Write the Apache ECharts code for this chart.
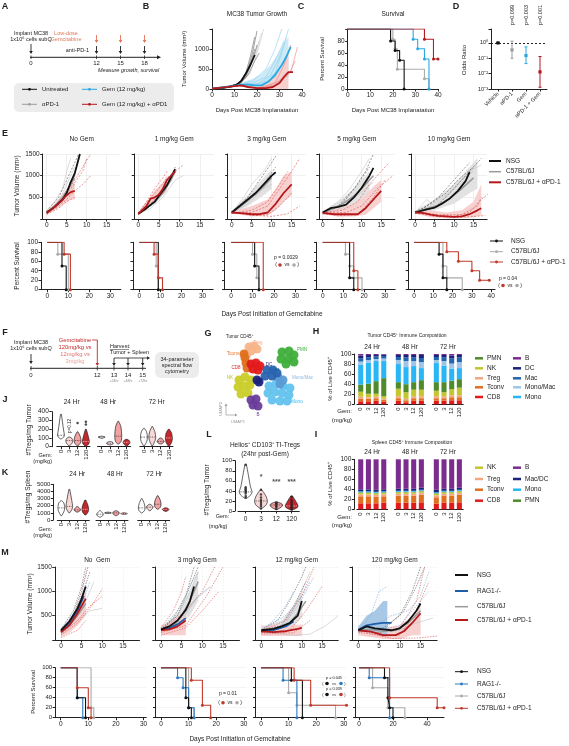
<!DOCTYPE html>
<html><head><meta charset="utf-8">
<script src="https://cdn.jsdelivr.net/npm/echarts@6/dist/echarts.min.js"></script>
<style>html,body{margin:0;padding:0;background:#fff}#c{width:569px;height:746px}</style>
</head><body><div id="c"></div>
<script>
// ---------------- DATA ----------------
// Panel B: tumor growth (days, mm3)
const B_untrInd = [[[0,10],[8,60],[12,150],[15,400],[17,800],[19,1300]],[[0,10],[8,50],[12,120],[15,300],[18,700],[20,1100]],[[0,10],[9,60],[13,200],[16,500],[18,900],[20,1450]],[[0,10],[8,40],[12,100],[16,350],[19,700],[21,900]],[[0,10],[10,80],[14,250],[17,600],[19,1000]]];
const B_untrMean = [[0,10],[5,30],[8,60],[11,110],[13,200],[15,380],[17,600],[19,850]];
const B_apdInd = [[[0,10],[10,70],[14,250],[18,700],[21,1200]],[[0,10],[10,60],[15,300],[19,800],[22,1400]],[[0,10],[12,100],[17,400],[20,900],[23,1500]]];
const B_gemInd = [[[0,10],[12,120],[18,200],[24,500],[28,1000],[31,1500]],[[0,10],[12,100],[18,150],[24,300],[28,700],[32,1200]],[[0,10],[12,110],[20,120],[26,350],[30,800],[33,1300]],[[0,10],[12,100],[20,80],[28,300],[32,700],[35,1100]],[[0,10],[14,120],[22,150],[28,400],[31,900],[34,1500]]];
const B_gemMean = [[0,10],[10,80],[13,110],[16,110],[19,90],[22,90],[25,180],[28,350],[31,600],[33,800],[35,1050]];
const B_gemBand = [[14,60,180],[18,40,250],[22,60,380],[26,120,600],[29,200,850],[32,350,1150],[34,500,1300]];
const B_comboInd = [[[0,10],[12,90],[20,20],[28,100],[33,400],[35,420],[38,1050]],[[0,10],[12,80],[20,15],[28,150],[32,600],[35,1100]],[[0,10],[12,80],[22,20],[30,200],[34,350],[37,700]]];
const B_comboMean = [[0,10],[10,70],[13,90],[16,50],[20,20],[24,20],[27,50],[30,150],[32,300],[34,420],[36,420]];
const B_comboBand = [[20,0,60],[24,0,120],[28,0,300],[31,0,550],[34,0,1000]];
// Panel C: survival (%)
const C_untr = [[0,100],[19,80],[21,64],[23,48],[25,0]];
const C_apd = [[0,100],[20,83],[21,67],[22,33],[34,17],[36,0]];
const C_gem = [[0,100],[29,83],[31,67],[34,50],[36,0]];
const C_combo = [[0,100],[34,83],[38,50],[40,50]];
// Panel D: odds ratios
const D_cats = ['Vehicle','αPD-1','Gem','αPD-1 + Gem'];
const D_mid = [1, 0.35, 0.15, 0.013];
const D_low = [1, 0.1, 0.045, 0.0013];
const D_high = [1, 1.3, 0.55, 0.13];
const D_p = ['', 'p=0.099', 'p=0.003', 'p=0.001'];
// Panel E: tumor growth per dose
const E_doses = ['No Gem','1 mg/kg Gem','3 mg/kg Gem','5 mg/kg Gem','10 mg/kg Gem'];
const E_nsgMean = [
 [[0,150],[2,280],[4,450],[5,600],[6,850],[7,1050],[8.3,1500]],
 [[0,120],[2,250],[4,400],[5,530],[7,780],[9,1150]],
 [[0,150],[2,300],[4,450],[6,600],[8,800],[10,1000],[11,1080]],
 [[0,150],[2,250],[4,280],[6,330],[8,500],[10,720],[12,1000],[13,1180]],
 [[0,150],[3,220],[5,260],[7,360],[9,480],[11,650],[13,880],[14,1080]]];
const E_nsgInd = [
 [[[0,180],[3,500],[5,900],[7,1300],[8,1500]],[[0,140],[3,380],[5,650],[7,1000]]],
 [[[0,120],[3,300],[5,500],[7,800],[9,1200]],[[0,110],[4,400],[6,650],[9,1100]]],
 [[[0,160],[4,500],[7,900],[10,1300],[11,1450]],[[0,140],[4,450],[8,800],[11,1200]]],
 [[[0,150],[4,300],[8,700],[11,1100],[13,1500]],[[0,130],[5,350],[9,800],[12,1200]]],
 [[[0,160],[3,300],[6,500],[9,800],[12,1100],[14,1300]],[[0,140],[4,350],[8,600],[11,900],[15,1200]],[[0,150],[5,250],[10,700],[14,1100],[17,1400]]]];
const E_c57Mean = [
 [[0,150],[2,300],[4,500],[5,650],[6,800],[7,950]],
 [[0,120],[2,260],[4,380],[6,600],[8,900],[9,1100]],
 [[0,140],[2,280],[4,420],[6,580],[8,750],[10,950]],
 [[0,150],[3,250],[6,400],[9,600],[11,800],[13,1000]],
 [[0,160],[3,240],[6,320],[9,480],[12,700],[15,950]]];
const E_c57Ind = [
 [[[0,200],[2,400],[4,700],[5,1100],[6,1400]],[[0,150],[3,400],[5,800],[7,1200]],[[0,130],[2,250],[4,400],[6,600],[7,800]]],
 [[[0,110],[3,250],[6,500],[9,900],[11,1000]],[[0,130],[4,450],[7,800],[9,1050]]],
 [[[0,150],[3,500],[5,800],[8,1100],[10,1400]],[[0,130],[4,350],[8,700],[10,800]]],
 [[[0,160],[4,400],[7,700],[10,1100],[12,1400]],[[0,140],[5,250],[9,550],[13,850]]],
 [[[0,150],[3,450],[5,300],[8,500],[11,800],[14,1100],[17,1250]],[[0,170],[4,300],[8,550],[12,900],[15,1100]]]];
const E_c57Band = [null, null,
 [[0,120,180],[4,300,550],[8,550,950],[10,700,1150]],
 [[0,120,180],[4,180,400],[8,350,700],[12,600,1100]],
 [[0,130,190],[5,200,450],[10,350,800],[14,600,1200],[16,700,1400]]];
const E_redMean = [
 [[0,140],[2,280],[4,450],[5,550],[6,620],[7,650]],
 [[0,120],[2,300],[3,470],[4,500],[5,560],[6,700],[7,900],[9,1100]],
 [[0,150],[3,130],[5,110],[7,110],[9,150],[11,350],[13,600],[15,800]],
 [[0,140],[3,110],[5,110],[9,110],[11,250],[13,450],[15,650]],
 [[0,150],[2,140],[4,100],[6,70],[8,60],[10,50],[12,60],[14,110],[16,200],[17,250]]];
const E_redInd = [
 [[[0,150],[3,400],[5,600],[7,900],[9,1200],[11,1500]],[[0,120],[3,300],[5,450],[7,650],[9,800],[11,1000]],[[0,130],[3,350],[6,700],[9,1100],[10,1400]],[[0,100],[3,250],[5,400],[7,500]]],
 [[[0,130],[2,400],[4,700],[6,950],[7,1100]],[[0,150],[3,500],[5,700],[7,950],[9,1100],[11,1250]],[[0,100],[3,350],[5,600],[8,900]]],
 [[[0,140],[5,150],[9,300],[12,700],[15,1100],[17,1400]],[[0,160],[5,90],[9,100],[12,300],[15,600]],[[0,130],[5,200],[9,400],[12,800],[14,1100]],[[0,150],[6,80],[10,60],[14,120],[17,300]]],
 [[[0,150],[5,200],[9,400],[12,800],[15,1100],[17,1300]],[[0,120],[5,80],[9,100],[13,500],[16,900]],[[0,140],[6,150],[10,300],[14,700],[18,1000]]],
 [[[0,150],[6,80],[10,60],[14,150],[17,450],[19,600]],[[0,140],[5,60],[10,40],[14,50],[18,80]],[[0,160],[6,100],[12,100],[16,300],[17,500]]]];
const E_redBand = [
 [[0,110,170],[2,200,360],[4,330,580],[6,450,800],[7,450,850]],
 [[0,100,150],[2,220,380],[4,400,650],[6,550,850],[7,650,1000]],
 [[0,130,170],[5,60,300],[9,80,450],[11,200,700],[13,400,1000],[15,550,1100]],
 [[0,110,190],[4,50,250],[8,60,350],[11,100,550],[13,250,750],[15,400,900]],
 [[0,120,190],[4,40,200],[8,20,150],[12,20,200],[15,40,400],[17,80,800]]];
const E_survNSG = [[[0,100],[7,50],[9,0]],[[0,100],[9,0]],[[0,100],[11,50],[13,0]],[[0,100],[13,25],[15,0]],[[0,100],[13,75],[15,25],[17,0]]];
const E_survC57 = [[[0,100],[5,75],[10,0]],[[0,100],[8,50],[9,0]],[[0,100],[10,75],[12,25],[13,0]],[[0,100],[11,75],[13,50],[15,25],[19,0]],[[0,100],[15,50],[17,25],[25,0]]];
const E_survRed = [[[0,100],[8,75],[11,0]],[[0,100],[7,75],[9,25],[11,0]],[[0,100],[15,0]],[[0,100],[15,40],[17,0]],[[0,100],[17,80],[23,60],[30,40],[34,20],[39,20]]];
// Panel G: UMAP cluster samples
const G_clusters = [
 {name:'Treg', color:'#f6b58a', pts:[[27,7],[32,6],[35,9],[29,11],[25,14]]},
 {name:'Tconv', color:'#e0701f', pts:[[22,14],[23,18],[24,23],[25,28]]},
 {name:'CD8', color:'#e31a1c', pts:[[29,24],[34,23],[38,26],[31,29],[36,30]]},
 {name:'NK', color:'#c9cd2a', pts:[[17,40],[23,37],[29,40],[16,47],[22,46],[28,45],[19,54],[26,53]]},
 {name:'PMN', color:'#3fae3a', pts:[[60,12],[67,11],[72,15],[59,19],[66,19],[72,22],[64,24]]},
 {name:'Mono', color:'#63c3ee', pts:[[47,46],[54,44],[61,46],[68,48],[46,53],[53,52],[60,53],[67,55],[50,60],[58,61],[65,61]]},
 {name:'Mono/Mac', color:'#5b9bd5', pts:[[56,37],[61,40],[58,44]]},
 {name:'Mac', color:'#2a64b0', pts:[[45,30],[51,30],[43,36],[50,36],[55,33]]},
 {name:'DC', color:'#1a237e', pts:[[35,40],[37,42]]},
 {name:'B', color:'#6a3d9a', pts:[[29,60],[34,59],[31,65],[36,66]]}];
// Panel H: tumor composition (%), 3 timepoints x doses 0,3,12,120
const H_times = ['24 Hr','48 Hr','72 Hr'];
const H_doses = ['0','3','12','120'];
const H_CD8 = [6,6,7,5, 7,4,7,7, 7,7,8,8];
const H_Tconv = [5,5,5,4, 5,4,5,5, 5,5,6,6];
const H_Treg = [4,3,3,2, 4,3,4,4, 4,4,4,4];
const H_NK = [10,7,6,5, 15,13,13,13, 11,8,12,15];
const H_PMN = [14,20,25,36, 13,16,15,19, 17,20,17,17];
const H_Mono = [40,42,40,34, 36,34,32,24, 38,33,24,22];
const H_MonoMac = [6,5,4,5, 8,12,10,12, 6,9,10,12];
const H_Mac = [6,5,5,5, 6,7,7,8, 6,7,10,9];
const H_DC = [6,5,3,3, 4,5,5,6, 4,5,6,5];
const H_B = [3,2,2,1, 2,2,2,2, 2,2,3,2];
// Panel I: spleen composition (%)
const I_CD8 = [12,12,12,13, 13,13,13,14, 11,13,13,14];
const I_Tconv = [14,14,13,13, 14,14,14,15, 13,14,14,15];
const I_Treg = [4,4,4,4, 4,4,4,4, 4,4,4,4];
const I_NK = [3,3,3,3, 3,3,3,3, 3,3,3,3];
const I_PMN = [1,1,1,1, 1,1,1,1, 1,1,1,1];
const I_Mono = [2,2,2,2, 2,2,2,2, 2,2,2,2];
const I_MacDC = [4,4,4,4, 4,4,4,4, 5,4,4,4];
const I_B = [60,60,61,60, 59,59,59,57, 61,59,59,57];
// Panels J/K/L: violins [doseIndex, min, q1, median, q3, max]
const J_24 = [[0,90,110,130,190,370],[1,10,40,70,95,110],[2,10,40,70,120,170],[3,5,30,60,110,200]];
const J_48 = [[0,95,105,110,115,120],[1,20,30,40,50,60],[2,30,60,120,230,290],[3,10,30,50,70,85]];
const J_72 = [[0,10,60,110,170,210],[1,10,70,110,170,230],[2,30,45,60,80,100],[3,5,50,100,160,200]];
const J_out = [[[2,270],[3,285],[3,255]],[],[]];
const K_24 = [[0,600,1200,1700,2400,2700],[1,1000,1500,1900,2700,4300],[2,1100,1300,1400,1600,1900],[3,700,1100,1500,2100,2800]];
const K_48 = [[0,400,600,800,1000,1300],[1,900,950,1000,1050,1100],[2,600,800,1000,1150,1300],[3,800,850,900,950,1000]];
const K_72 = [[0,1000,1300,1700,2300,3000],[1,1300,1600,1800,2000,2200],[2,1500,1800,2200,2800,3400],[3,1200,1350,1500,1600,1700]];
const L_violin = [[0,25,32,38,48,92],[1,5,12,20,30,42],[2,3,8,12,15,18],[3,2,6,10,17,30]];
const L_points = [[0,27],[0,30],[0,35],[0,38],[0,40],[0,42],[0,44],[0,47],[0,92],[1,5],[1,10],[1,14],[1,18],[1,22],[1,27],[1,33],[1,42],[2,4],[2,8],[2,10],[2,13],[2,15],[2,17],[3,3],[3,6],[3,8],[3,11],[3,14],[3,18],[3,22],[3,28]];
const L_stars = [[1,68,'*'],[2,58,'***'],[3,58,'***']];
// Panel M
const M_doses = ['No  Gem','3 mg/kg Gem','12 mg/kg Gem','120 mg/kg Gem'];
const M_nsgMean = [[[0,200],[2,380],[4,650],[5,850],[6,1100]],[[0,220],[2,280],[4,400],[6,620],[7,800],[8,1100]],[[0,200],[3,230],[5,280],[7,350],[9,500],[10,800]],[[0,200],[2,280],[4,240],[6,220],[8,200],[10,240],[12,380],[14,600],[15,750]]];
const M_ragMean = [[[0,180],[2,350],[4,600],[5,800],[5.5,900]],[[0,210],[2,250],[4,320],[6,450]],[[0,180],[3,200],[6,280],[8,380]],[[0,210],[2,300],[4,330],[6,350],[8,350]]];
const M_c57Mean = [[[0,160],[2,300],[4,500],[6,750]],[[0,200],[3,300],[5,500],[7,800],[9,1200]],[[0,190],[4,230],[7,350],[9,550],[11,800]],[[0,200],[3,220],[6,180],[9,200],[12,350],[15,600]]];
const M_redMean = [[[0,160],[2,300],[4,550],[6,850]],[[0,200],[2,220],[4,280],[6,400]],[[0,180],[3,160],[6,180],[9,230],[10,250]],[[0,200],[3,170],[6,100],[9,100],[11,180],[13,350],[15,550]]];
const M_nsgInd = [[[[0,220],[3,600],[5,1100],[6,1500]],[[0,180],[3,500],[5,900],[7,1400]]],[[[0,220],[3,450],[6,900],[8,1500]],[[0,200],[4,500],[7,1100],[9,1500]]],[[[0,200],[4,400],[7,800],[10,1300],[11,1500]],[[0,190],[5,300],[8,700],[11,1200]]],[[[0,200],[6,250],[10,500],[13,1000],[15,1500]],[[0,220],[6,200],[11,600],[14,1100],[16,1500]]]];
const M_ragInd = [[[[0,200],[3,550],[5,1000],[6.5,1500]],[[0,170],[3,400],[5,700],[7,1200]]],[[[0,220],[4,600],[7,1100],[9,1400]],[[0,190],[4,350],[8,800],[12,1100]]],[[[0,200],[3,400],[6,700],[8,1000]],[[0,180],[5,250],[9,700],[13,1300]],[[0,220],[6,500],[10,900],[12,1200]]],[[[0,200],[3,500],[5,1000],[7,1100]],[[0,220],[4,300],[8,500],[12,600],[15,900],[17,1400]],[[0,180],[5,200],[10,300],[14,700],[17,1000]]]];
const M_c57Ind = [[[[0,150],[4,400],[7,600],[10,650]],[[0,170],[3,400],[6,800],[8,1200]]],[[[0,210],[4,500],[7,1000],[9,1400]],[[0,180],[5,400],[9,900],[12,1100]]],[[[0,200],[6,300],[10,1000],[12,1400]],[[0,150],[8,100],[12,120],[16,300],[19,500]]],[[[0,190],[5,150],[10,200],[14,350],[18,450]]]];
const M_redInd = [[[[0,150],[3,500],[5,1000],[6.5,1500]],[[0,120],[4,400],[7,700],[10,900]],[[0,100],[4,350],[7,650],[10,1050]],[[0,50],[4,200],[6,400]]],[[[0,250],[3,600],[5,1000],[6,1300]],[[0,150],[6,300],[11,900],[15,1500]],[[0,100],[6,250],[10,600],[14,1000]],[[0,180],[6,600],[10,1000],[13,1500]]],[[[0,190],[6,400],[10,900],[13,1500]],[[0,150],[7,200],[11,600],[15,1100]],[[0,120],[8,150],[12,400]]],[[[0,190],[5,150],[10,250],[14,800],[16,1500]],[[0,160],[6,80],[10,100],[14,600],[17,1200]],[[0,200],[8,30],[14,40],[19,80]]]];
const M_redBand = [[[0,60,250],[2,150,400],[4,300,700],[6,500,1000]],[[0,100,300],[3,100,400],[6,100,550]],[[0,80,300],[5,80,300],[10,80,320]],[[0,100,300],[6,20,250],[10,20,300],[13,100,500],[15,100,700]]];
const M_ragBand = [null,null,null,[[0,150,270],[2,180,500],[4,150,600],[6,100,800],[7,80,800]]];
const M_c57Band = [null,[[0,150,250],[4,250,550],[7,500,1000],[9,800,1400]],[[0,150,250],[5,180,400],[8,300,700],[10,450,1000]],null];
const M_survNSG = [[[0,100],[6,40],[9,0]],[[0,100],[9,40],[10,20],[11,0]],[[0,100],[11,75],[15,0]],[[0,100],[15,80],[17,40],[18,20],[20,0]]];
const M_survRAG = [[[0,100],[6,40],[8,0]],[[0,100],[6,80],[8,60],[10,20],[12,0]],[[0,100],[8,75],[13,0]],[[0,100],[6,80],[18,0]]];
const M_survC57 = [[[0,100],[11,20],[12,0]],[[0,100],[10,20],[12,0]],[[0,100],[10,50],[13,25],[27,0]],[[0,100],[8,60],[17,20],[27,0]]];
const M_survRed = [[[0,100],[6,60],[10,20],[11,0]],[[0,100],[11,75],[15,25],[18,0]],[[0,100],[12,75],[18,25],[31,25]],[[0,100],[18,40],[46,20],[50,20]]];

// ---------------- BUILD ----------------
const FF = '"Liberation Sans", Arial, sans-serif';
const COL = {black:'#111', grey:'#9c9c9c', lgrey:'#cfcfcf', red:'#b5191c', redInd:'#d9534f', pink:'#f4c4c4', gem:'#29a9e1', rag:'#1f5fa8', ragInd:'#7aa7d6'};
const grids=[], xAxes=[], yAxes=[], series=[], G=[];
const AX = {
  axisLine:{show:true, onZero:false, lineStyle:{color:'#222', width:1}},
  axisTick:{show:true, length:2.5, lineStyle:{color:'#222', width:1}},
  axisLabel:{fontSize:6.5, fontFamily:FF, color:'#222', margin:3},
  splitLine:{show:false}
};
function merge(a,b){ const o=Object.assign({},a); for(const k in b){ const v=b[k]; if(v&&typeof v==='object'&&!Array.isArray(v)&&a[k]&&typeof a[k]==='object'&&!Array.isArray(a[k])) o[k]=merge(a[k],v); else o[k]=v; } return o; }
function addGrid(box, xa, ya){
  const i=grids.length;
  grids.push(Object.assign({containLabel:false, outerBoundsMode:'none'}, box));
  xAxes.push(merge(AX, merge({gridIndex:i, type:'value'}, xa)));
  yAxes.push(merge(AX, merge({gridIndex:i, type:'value'}, ya)));
  return i;
}
function lineS(gi, data, color, width, type, z){
  series.push({type:'line', xAxisIndex:gi, yAxisIndex:gi, data, symbol:'none', showSymbol:false, clip:true,
    lineStyle:{color, width, type:type||'solid'}, itemStyle:{color}, z:z||2, silent:true, animation:false});
}
function bandS(gi, data, color, z){
  if(!data) return;
  series.push({type:'custom', xAxisIndex:gi, yAxisIndex:gi, data, encode:{x:0,y:[1,2]}, z:z||1, silent:true, clip:true,
    renderItem:(p,api)=>{ if(p.dataIndex!==0) return null;
      const top=data.map(d=>api.coord([d[0],d[2]])); const bot=data.map(d=>api.coord([d[0],d[1]])).reverse();
      return {type:'polygon', shape:{points:top.concat(bot)}, style:{fill:color}}; }});
}
function survS(gi, data, color, z){
  series.push({type:'line', step:'end', xAxisIndex:gi, yAxisIndex:gi,
    data:data.map((d,i)=>i===0?{value:d, symbol:'none'}:d), symbol:'circle', symbolSize:3, showSymbol:true,
    lineStyle:{color, width:1.1}, itemStyle:{color}, z:z||3, silent:true, animation:false});
}
function T(x,y,text,o){ o=o||{}; G.push({type:'text', x, y, rotation:o.rot||0, z:100,
  style:{text, font:(o.it?'italic ':'')+(o.b?'bold ':'')+(o.s||6)+'px '+FF, fill:o.c||'#222', align:o.a||'center', verticalAlign:o.v||'middle'}}); }
function Ln(x1,y1,x2,y2,c,w,dash){ G.push({type:'line', z:100, shape:{x1,y1,x2,y2}, style:{stroke:c||'#222', lineWidth:w||1, lineDash:dash||null}}); }
function Tri(pts,c){ G.push({type:'polygon', z:100, shape:{points:pts}, style:{fill:c}}); }
function arrowDown(x,y1,y2,c){ Ln(x,y1,x,y2-2,c,0.9); Tri([[x-1.8,y2-3],[x+1.8,y2-3],[x,y2]],c); }
function Rc(x,y,w,h,fill,r){ G.push({type:'rect', z:95, shape:{x,y,width:w,height:h,r:r||0}, style:{fill}}); }
function Dot(x,y,r,c){ G.push({type:'circle', z:101, shape:{cx:x,cy:y,r}, style:{fill:c}}); }
function legLine(x1,x2,y,c,w,dot){ Ln(x1,y,x2,y,c,w); if(dot) Dot((x1+x2)/2,y,1.4,c); }
function vsLabel(x,y,c1,c2,s){ s=s||5; T(x-11,y,'(',{s}); Dot(x-7,y,1.8,c1); T(x,y,'vs',{s}); Dot(x+7,y,1.8,c2); T(x+11,y,')',{s}); }
const hideZero = v => v===0?'':v;
const catAxis = (extra) => merge({type:'category',data:H_doses,axisTick:{alignWithLabel:true},axisLabel:{interval:0,rotate:90,fontSize:6,margin:3}}, extra||{});

// ---- Panel A ----
T(5,7,'A',{b:1,s:9});
T(31,33,'Implant MC38',{s:5.5}); T(31,39,'1x10⁶ cells subQ',{s:5.5});
arrowDown(31,44,54,'#222');
T(66,33,'Low-dose',{s:5.5,c:'#e2765a'}); T(66,39,'Gemcitabine',{s:5.5,c:'#e2765a'});
[96.5,120.5,144.5].forEach(x=>{arrowDown(x,35,43,'#e2765a'); arrowDown(x,46,54,'#222'); Ln(x,55.5,x,59,'#222',0.8);});
Ln(31,55.5,31,59,'#222',0.8);
T(89,50,'anti-PD-1',{s:5.5,a:'right'});
Ln(30,57.3,158,57.3,'#222',1); Tri([[157,55.3],[157,59.3],[161,57.3]],'#222');
T(31,63.5,'0',{s:6}); T(96.5,63.5,'12',{s:6}); T(120.5,63.5,'15',{s:6}); T(144.5,63.5,'18',{s:6});
T(98,70.5,'Measure growth, survival',{it:1,a:'left',s:5.5});
Rc(14,83,160,29,'#ececec',5);
legLine(22,37,89.3,COL.black,1,true); T(42,89.3,'Untreated',{a:'left',s:6});
legLine(22,37,104.3,COL.grey,1,true); T(42,104.3,'αPD-1',{a:'left',s:6});
legLine(82,97,89.3,COL.gem,1,true); T(102,89.3,'Gem (12 mg/kg)',{a:'left',s:6});
legLine(82,97,104.3,COL.red,1,true); T(102,104.3,'Gem (12 mg/kg) + αPD1',{a:'left',s:6});

// ---- Panel B ----
T(146,7,'B',{b:1,s:9}); T(257,14,'MC38 Tumor Growth',{s:6.5});
T(184,59,'Tumor Volume (mm³)',{rot:Math.PI/2,s:6}); T(257,110,'Days Post MC38 Implanatation',{s:6});
let gi = addGrid({left:212,top:29,width:90,height:60},{min:0,max:40,interval:10},{min:0,max:1500,interval:500,axisLabel:{formatter:v=>v===1500?'':v}});
bandS(gi,B_gemBand,'#cdeaf7',1); bandS(gi,B_comboBand,'#f6cfcf',1);
B_apdInd.forEach(d=>lineS(gi,d,'#c8c8c8',0.6));
B_untrInd.forEach(d=>lineS(gi,d,'#666',0.6));
B_gemInd.forEach(d=>lineS(gi,d,'#8fd0ee',0.6));
B_comboInd.forEach(d=>lineS(gi,d,'#e58a8a',0.6));
lineS(gi,B_untrMean,COL.black,1.8,'solid',5); lineS(gi,B_gemMean,COL.gem,1.8,'solid',5); lineS(gi,B_comboMean,COL.red,1.8,'solid',5);

// ---- Panel C ----
T(301,7,'C',{b:1,s:9}); T(393,14,'Survival',{s:6.5});
T(322,59,'Percent Survival',{rot:Math.PI/2,s:6}); T(393,110,'Days Post MC38 Implanatation',{s:6});
gi = addGrid({left:347.7,top:29,width:90.3,height:60},{min:0,max:40,interval:10},{min:0,max:100,interval:20,axisLabel:{formatter:v=>v===100?'':v}});
survS(gi,C_apd,'#aaaaaa',3); survS(gi,C_untr,COL.black,4); survS(gi,C_gem,COL.gem,4); survS(gi,C_combo,COL.red,4);

// ---- Panel D ----
T(456,7,'D',{b:1,s:9}); T(464,60,'Odds Ratio',{rot:Math.PI/2,s:6});
gi = addGrid({left:491,top:29,width:56,height:60},
  {type:'category',data:D_cats,axisTick:{alignWithLabel:true},axisLabel:{interval:0,rotate:45,fontSize:5.5,margin:4}},
  {type:'log',logBase:10,min:0.001,max:8,axisLabel:{fontSize:5.5,formatter:v=>{const e=Math.log10(v); if(Math.abs(e-Math.round(e))>0.01) return ''; const sup={'0':'⁰','1':'¹','2':'²','3':'³','-':'⁻'}; return '10'+String(Math.round(e)).split('').map(ch=>sup[ch]).join('');}}});
const D_cols = ['#111','#9c9c9c',COL.gem,COL.red];
series.push({type:'custom', xAxisIndex:gi, yAxisIndex:gi, z:5, silent:true,
  data:D_cats.map((c,i)=>[i,D_low[i],D_mid[i],D_high[i]]), encode:{x:0,y:[1,3]},
  renderItem:(p,api)=>{ const i=api.value(0); const lo=api.coord([i,api.value(1)]), mi=api.coord([i,api.value(2)]), hi=api.coord([i,api.value(3)]); const c=D_cols[i];
    return {type:'group',children:[
      {type:'line',shape:{x1:lo[0],y1:lo[1],x2:hi[0],y2:hi[1]},style:{stroke:c,lineWidth:1}},
      {type:'line',shape:{x1:lo[0]-1.5,y1:lo[1],x2:lo[0]+1.5,y2:lo[1]},style:{stroke:c,lineWidth:1}},
      {type:'line',shape:{x1:hi[0]-1.5,y1:hi[1],x2:hi[0]+1.5,y2:hi[1]},style:{stroke:c,lineWidth:1}},
      {type:'rect',shape:{x:mi[0]-1.6,y:mi[1]-1.6,width:3.2,height:3.2},style:{fill:c}}]}; },
  markLine:{silent:true,symbol:'none',label:{show:false},data:[{yAxis:1}],lineStyle:{type:[2,2],color:'#222',width:1}}});
[[512.7,1],[526.7,2],[540,3]].forEach(([x,i])=>T(x,25,D_p[i],{rot:Math.PI/2,a:'left',s:5.5}));

// ---- Panel E ----
T(5,134,'E',{b:1,s:9});
const E_x0=[46.7,138.3,231.7,322.7,415], E_px=[4,4.1,4,3.9,3.9];
const Es_x0=[47.3,139.3,231,322.7,414], Es_px=[2.1,2.11,2.15,2.07,1.93];
for(let p=0;p<5;p++){
  const left=E_x0[p]-E_px[p];
  T(left+19.5*E_px[p]/2, 139, E_doses[p], {s:6.5});
  const spl={show:true,lineStyle:{color:'#e6e6e6',width:0.6}};
  gi = addGrid({left,top:154,width:19.5*E_px[p],height:65},
    {min:-1,max:18.5,axisLabel:{customValues:[0,5,10,15]},axisTick:{customValues:[0,5,10,15]},splitLine:spl},
    {min:0,max:1500,interval:500,axisLabel:{show:p===0,formatter:hideZero},splitLine:spl});
  bandS(gi,E_c57Band[p],'#e2e2e2',1); bandS(gi,E_redBand[p],'#f7d0d0',1);
  E_c57Ind[p].forEach(d=>lineS(gi,d,'#c4c4c4',0.6));
  E_nsgInd[p].forEach(d=>lineS(gi,d,'#555',0.6,[2,1.5]));
  E_redInd[p].forEach(d=>lineS(gi,d,COL.redInd,0.6,[2,1.5]));
  lineS(gi,E_c57Mean[p],'#9a9a9a',1.5,'solid',4); lineS(gi,E_nsgMean[p],COL.black,1.8,'solid',5); lineS(gi,E_redMean[p],COL.red,1.8,'solid',5);
  const sleft=Es_x0[p]-3*Es_px[p], smax=p===4?42:35, cv=p===4?[0,10,20,30,40]:[0,10,20,30];
  gi = addGrid({left:sleft,top:242.3,width:(smax+3)*Es_px[p],height:47.4},
    {min:-3,max:smax,axisLabel:{customValues:cv},axisTick:{customValues:cv}},
    {min:0,max:100,interval:20,axisLabel:{show:p===0}});
  survS(gi,E_survC57[p],'#aaaaaa',3); survS(gi,E_survNSG[p],COL.black,4); survS(gi,E_survRed[p],'#c0392b',5);
}
T(17,186,'Tumor Volume (mm³)',{rot:Math.PI/2,s:6.5}); T(17,266,'Percent Survival',{rot:Math.PI/2,s:6.5});
T(272,314,'Days Post Initiation of Gemcitabine',{s:6.5});
legLine(489,501,161,COL.black,2); T(506,161,'NSG',{a:'left',s:6.5});
legLine(489,501,171.7,'#9a9a9a',1.5); T(506,171.7,'C57BL/6J',{a:'left',s:6.5});
legLine(489,501,182.3,COL.red,2); T(506,182.3,'C57BL/6J + αPD-1',{a:'left',s:6.5});
legLine(490,503,241,COL.black,1,true); T(511,241,'NSG',{a:'left',s:6.5});
legLine(490,503,251.7,'#aaaaaa',1,true); T(511,251.7,'C57BL/6J',{a:'left',s:6.5});
legLine(490,503,262,'#c0392b',1,true); T(511,262,'C57BL/6J + αPD-1',{a:'left',s:6.5});
T(286,257.3,'p = 0.0029',{s:5}); vsLabel(287,265,'#c0392b','#aaaaaa');
T(508,278.5,'p = 0.04',{s:5}); vsLabel(510,285.5,'#c0392b','#aaaaaa');

// ---- Panel F ----
T(5,333,'F',{b:1,s:9});
T(31,342,'Implant MC38',{s:5.5}); T(31,348,'1x10⁶ cells subQ',{s:5.5});
arrowDown(31,354,364,'#222');
Ln(30,368.3,146,368.3,'#222',1);
[[31,'0'],[97.3,'12'],[114,'13'],[128,'14'],[142.7,'15']].forEach(([x,t])=>{Ln(x,366,x,370.5,'#222',0.8); T(x,375,t,{s:6});});
T(75,340,'Gemcitabine',{s:5.8,c:'#c0282a'});
T(75,347.5,'120mg/kg vs',{s:5.8,c:'#c0282a'});
T(75,354.5,'12mg/kg vs',{s:5.8,c:'#e07070'});
T(75,361.5,'3mg/kg',{s:5.8,c:'#f0a0a0'});
Ln(92,340,97.3,340,'#c0282a',0.8); arrowDown(97.3,340,366,'#c0282a');
T(110,346.5,'Harvest:',{a:'left',s:5.5}); Ln(110,349.5,129,349.5,'#222',0.5);
T(110,352.7,'Tumor + Spleen',{a:'left',s:5.5});
Ln(114,358,148,358,'#222',0.8); Tri([[147,356.3],[147,359.7],[150,358]],'#222');
[114,128,142.7].forEach(x=>arrowDown(x,358,366,'#222'));
['+24hr','+48hr','+72hr'].forEach((t,i)=>T([114,128,142.7][i],381,t,{s:3.5,c:'#888'}));
Rc(155,352,44,26,'#ececec',6);
T(177,359,'34-parameter',{s:5.5}); T(177,365,'spectral flow',{s:5.5}); T(177,371,'cytometry',{s:5.5});

// ---- Panel G ----
T(208,334,'G',{b:1,s:9}); T(226,337,'Tumor CD45⁺',{a:'left',s:4.5});
gi = addGrid({left:222,top:340,width:85,height:80},{min:0,max:85,show:false},{min:0,max:80,inverse:true,show:false});
G_clusters.forEach(c=>series.push({type:'scatter',xAxisIndex:gi,yAxisIndex:gi,data:c.pts,symbolSize:9,itemStyle:{color:c.color,opacity:0.95},silent:true,z:3}));
[['Treg',258,342.5,'#f4a582'],['Tconv',233,354,'#e0701f'],['CD8',236,368,'#e31a1c'],['NK',230,378,'#b8bc20'],['DC',269,364.5,'#1a237e'],['Mac',275,370,'#2166ac'],['Mono/Mac',292,377.5,'#8fb8e0'],['Mono',297,401.5,'#29b6f6'],['PMN',302,350,'#3fae3a'],['B',258,415,'#6a3d9a']]
  .forEach(([t,x,y,c])=>T(x,y,t,{s:4.5,c,a:t==='Mono/Mac'?'left':'center'}));
Ln(226,405,226,415,'#999',0.7); Ln(226,415,236,415,'#999',0.7);
Tri([[224.5,406],[227.5,406],[226,403.5]],'#999'); Tri([[235,413.5],[235,416.5],[237.5,415]],'#999');
T(221,409,'UMAP2',{rot:Math.PI/2,s:4,c:'#999'}); T(238,421.5,'UMAP1',{s:4,c:'#999'});

// ---- Panels H & I ----
const H_types = [['CD8',H_CD8,'#e31a1c'],['Tconv',H_Tconv,'#e0701f'],['Treg',H_Treg,'#f4a582'],['NK',H_NK,'#c3c62e'],['PMN',H_PMN,'#4f8a2b'],['Mono',H_Mono,'#29b6f6'],['Mono/Mac',H_MonoMac,'#9ec5e8'],['Mac',H_Mac,'#2166ac'],['DC',H_DC,'#1a237e'],['B',H_B,'#7b2d8e']];
const I_types = [['CD8',I_CD8,'#e31a1c'],['Tconv',I_Tconv,'#e0701f'],['Treg',I_Treg,'#f4a582'],['NK',I_NK,'#c3c62e'],['PMN',I_PMN,'#4f8a2b'],['Mono',I_Mono,'#29b6f6'],['Mac/DC',I_MacDC,'#1a237e'],['B',I_B,'#7b2d8e']];
const HI_lefts=[356.9,394.5,432.5];
function stackPanel(types, top, height){
  for(let g=0;g<3;g++){
    const id = addGrid({left:HI_lefts[g],top,width:30.7,height},
      catAxis({axisTick:{show:false}}),
      {min:0,max:100,interval:20,show:g===0,offset:2.6,axisLabel:{fontSize:6.5}});
    types.forEach(([n,arr,c])=>series.push({type:'bar',xAxisIndex:id,yAxisIndex:id,stack:'s'+id,data:arr.slice(g*4,g*4+4),barWidth:'66%',itemStyle:{color:c},silent:true}));
    T(HI_lefts[g]+15.35, top-6.8, H_times[g], {s:6.5});
  }
}
T(316,332,'H',{b:1,s:9}); T(407,336,'Tumor CD45⁺ Immune Composition',{s:5});
stackPanel(H_types,354,50.3);
T(330,379,'% of Live CD45⁺',{rot:Math.PI/2,s:6}); T(352,411.7,'Gem:',{a:'right',s:6}); T(352,420,'(mg/kg)',{a:'right',s:6});
[[['PMN','#4f8a2b'],['NK','#c3c62e'],['Treg','#f4a582'],['Tconv','#e0701f'],['CD8','#e31a1c']],[['B','#7b2d8e'],['DC','#1a237e'],['Mac','#2166ac'],['Mono/Mac','#9ec5e8'],['Mono','#29b6f6']]]
  .forEach((col,ci)=>col.forEach(([t,c],ri)=>{const y=[358.3,368.3,378.3,387.3,397][ri]; const x=ci?513:475; legLine(x,x+8,y,c,2.5); T(x+12,y,t,{a:'left',s:6.5});}));
T(316,435,'I',{b:1,s:9}); T(412,442.3,'Spleen CD45⁺ Immune Composition',{s:5});
stackPanel(I_types,459.3,50);
T(330,484,'% of Live CD45⁺',{rot:Math.PI/2,s:6}); T(352,517.7,'Gem:',{a:'right',s:6}); T(352,525.7,'(mg/kg)',{a:'right',s:6});
[[['NK','#c3c62e'],['Treg','#f4a582'],['Tconv','#e0701f'],['CD8','#e31a1c']],[['B','#7b2d8e'],['Mac/DC','#1a237e'],['Mono','#29b6f6'],['PMN','#4f8a2b']]]
  .forEach((col,ci)=>col.forEach(([t,c],ri)=>{const y=[467.7,479,489.7,500.7][ri]; const x=ci?513:475; legLine(x,x+8,y,c,2.5); T(x+12,y,t,{a:'left',s:6.5});}));

// ---- Violins J, K, L ----
const VC=['#ffffff','#f8d7d7','#f1a3a3','#c3272b'];
function violinRender(p,api){
  const c=api.value(0); const v=[1,2,3,4,5].map(i=>api.value(i));
  const hw=Math.min(api.size([1,0])[0]*0.42,7); const ws=[0.12,0.8,1,0.75,0.12];
  const Lp=[],Rp=[];
  for(let i=0;i<5;i++){const pt=api.coord([c,v[i]]); Lp.push([pt[0]-hw*ws[i],pt[1]]); Rp.unshift([pt[0]+hw*ws[i],pt[1]]);}
  const top=api.coord([c,v[4]]), bot=api.coord([c,v[0]]), med=api.coord([c,v[2]]);
  return {type:'group',children:[
    {type:'polygon',shape:{points:[bot].concat(Lp,[top],Rp),smooth:0.25},style:{fill:VC[c],stroke:'#222',lineWidth:0.7}},
    {type:'line',shape:{x1:med[0]-hw*0.85,y1:med[1],x2:med[0]+hw*0.85,y2:med[1]},style:{stroke:c===3?'#fff':'#222',lineWidth:0.6,lineDash:[1.5,1]}}]};
}
function violinS(id,data){ series.push({type:'custom',xAxisIndex:id,yAxisIndex:id,data,encode:{x:0,y:[1,5]},renderItem:violinRender,silent:true,z:3}); }
T(5,400,'J',{b:1,s:9});
const J_l=[56.8,97.5,139.8], J_t=[71.7,108.3,156.7], J_data=[J_24,J_48,J_72];
for(let g=0;g<3;g++){
  const id=addGrid({left:J_l[g],top:411.7,width:33.2,height:35}, catAxis(),
    {min:0,max:400,interval:100,show:g===0,offset:5,axisLabel:{fontSize:6.5}});
  violinS(id,J_data[g]);
  if(J_out[g].length) series.push({type:'scatter',xAxisIndex:id,yAxisIndex:id,data:J_out[g],symbolSize:2.5,itemStyle:{color:'#222'},silent:true,z:4});
  T(J_t[g],402.3,H_times[g],{s:6.5});
}
T(69.3,433,'p=0.12',{rot:Math.PI/2,a:'left',s:4.5});
T(29,430,'#Tregs/mg Tumor',{rot:Math.PI/2,s:6.5}); T(52,455,'Gem:',{a:'right',s:5.5}); T(52,461.7,'(mg/kg)',{a:'right',s:5.5});
T(5,473,'K',{b:1,s:9});
const K_l=[57.3,96,137.7], K_t=[77.3,115,154.3], K_data=[K_24,K_48,K_72];
for(let g=0;g<3;g++){
  const id=addGrid({left:K_l[g],top:484.3,width:32,height:35.7}, catAxis(),
    {min:0,max:5000,interval:1000,show:g===0,offset:4,axisLabel:{fontSize:6,formatter:v=>String(v)}});
  violinS(id,K_data[g]);
  T(K_t[g],474.3,H_times[g],{s:6.5});
}
T(28,497,'#Tregs/mg Spleen',{rot:Math.PI/2,s:6.5}); T(52,529,'Gem:',{a:'right',s:5.5}); T(52,535.7,'(mg/kg)',{a:'right',s:5.5});
T(209,435,'L',{b:1,s:9}); T(265,445,'Helios⁺ CD103⁺ TI-Tregs',{s:6.5}); T(265,454.5,'(24hr post-Gem)',{s:6.5});
gi=addGrid({left:238,top:460.7,width:61.3,height:50.3},
  catAxis({axisLabel:{rotate:0,fontSize:6.5,margin:5}}),
  {min:0,max:100,interval:20,offset:3,axisLabel:{fontSize:6}});
violinS(gi,L_violin);
series.push({type:'scatter',xAxisIndex:gi,yAxisIndex:gi,data:L_points,symbolSize:2.5,itemStyle:{color:'#222'},silent:true,z:4});
series.push({type:'scatter',xAxisIndex:gi,yAxisIndex:gi,data:L_stars,symbolSize:1,itemStyle:{color:'rgba(0,0,0,0)'},silent:true,z:5,
  label:{show:true,position:'inside',formatter:p=>p.data[2],fontSize:7,fontWeight:'bold',color:'#222',fontFamily:FF}});
T(207,490,'#Tregs/mg Tumor',{rot:Math.PI/2,s:6.5}); T(222.5,516.7,'Gem:',{s:5.5}); T(218,526,'(mg/kg)',{s:5.5});

// ---- Panel M ----
T(5,553,'M',{b:1,s:9});
const M_x0=[61,161,261.3,358.3], M_px=[4.13,4.13,4.05,4.15];
const Ms_x0=[60.7,161,261,359];
for(let p=0;p<4;p++){
  const left=M_x0[p]-1.5*M_px[p];
  T(left+20.5*M_px[p]/2,560.5,M_doses[p],{s:6.5});
  const spl={show:true,lineStyle:{color:'#e6e6e6',width:0.6,type:[1.5,1.5]}};
  gi=addGrid({left,top:567,width:20.5*M_px[p],height:73},
    {min:-1.5,max:19,axisLabel:{customValues:[0,5,10,15]},axisTick:{customValues:[0,5,10,15]},splitLine:spl},
    {min:0,max:1500,interval:500,axisLabel:{show:p===0,formatter:hideZero},splitLine:spl});
  bandS(gi,M_c57Band[p],'#e2e2e2',1); bandS(gi,M_redBand[p],'#f7d0d0',1); bandS(gi,M_ragBand[p],'#a9c8e6',1);
  M_c57Ind[p].forEach(d=>lineS(gi,d,'#c4c4c4',0.6));
  M_nsgInd[p].forEach(d=>lineS(gi,d,'#555',0.6,[1.5,1.2]));
  M_ragInd[p].forEach(d=>lineS(gi,d,COL.ragInd,0.6,[1.5,1.2]));
  M_redInd[p].forEach(d=>lineS(gi,d,COL.redInd,0.6,[1.5,1.2]));
  lineS(gi,M_c57Mean[p],'#9a9a9a',1.5,'solid',4); lineS(gi,M_ragMean[p],COL.rag,1.8,'solid',5);
  lineS(gi,M_redMean[p],COL.red,1.8,'solid',5); lineS(gi,M_nsgMean[p],COL.black,1.8,'solid',6);
  const pxs=p===3?1.7:2.76, smax=p===3?50:31, cv=p===3?[0,20,40]:[0,10,20,30];
  gi=addGrid({left:Ms_x0[p]-2*pxs,top:667.7,width:(smax+2)*pxs,height:50},
    {min:-2,max:smax,axisLabel:{customValues:cv},axisTick:{customValues:cv}},
    {min:0,max:100,interval:20,axisLabel:{show:p===0,fontSize:6},splitLine:{show:true,lineStyle:{color:'#ececec',width:0.6}}});
  survS(gi,M_survC57[p],'#aaaaaa',3); survS(gi,M_survRAG[p],'#2f79c0',4); survS(gi,M_survNSG[p],COL.black,5); survS(gi,M_survRed[p],'#c0392b',6);
}
T(30,604,'Tumor Volume (mm³)',{rot:Math.PI/2,s:6.5}); T(33,692,'Percent Survival',{rot:Math.PI/2,s:6});
T(240,739,'Days Post Initiation of Gemcitabine',{s:6.5});
legLine(455,468,575,COL.black,2); T(477,575,'NSG',{a:'left',s:6.5});
legLine(455,468,591,COL.rag,2); T(477,591,'RAG1-/-',{a:'left',s:6.5});
legLine(455,468,606.7,'#9a9a9a',1.5); T(477,606.7,'C57BL/6J',{a:'left',s:6.5});
legLine(455,468,620,COL.red,2); T(477,620,'C57BL/6J + αPD-1',{a:'left',s:6.5});
legLine(455,468,671.7,COL.black,1,true); T(477,671.7,'NSG',{a:'left',s:6.5});
legLine(455,468,684,'#2f79c0',1,true); T(477,684,'RAG1-/-',{a:'left',s:6.5});
legLine(455,468,696,'#aaaaaa',1,true); T(477,696,'C57BL/6J',{a:'left',s:6.5});
legLine(455,468,708.3,'#c0392b',1,true); T(477,708.3,'C57BL/6J + αPD-1',{a:'left',s:6.5});
T(228,694,'p = 0.01',{s:5}); vsLabel(230,702.7,'#c0392b','#aaaaaa');
T(334,678.3,'p = 0.045',{s:3.8}); vsLabel(334,683.5,'#111','#2f79c0',3.8);
T(334,689.3,'p = 0.039',{s:3.8}); vsLabel(334,694.5,'#111','#c0392b',3.8);

const chart = echarts.init(document.getElementById('c'), null, {renderer:'canvas'});
chart.setOption({animation:false, backgroundColor:'#fff', grid:grids, xAxis:xAxes, yAxis:yAxes, series, graphic:{elements:G}});
</script></body></html>
